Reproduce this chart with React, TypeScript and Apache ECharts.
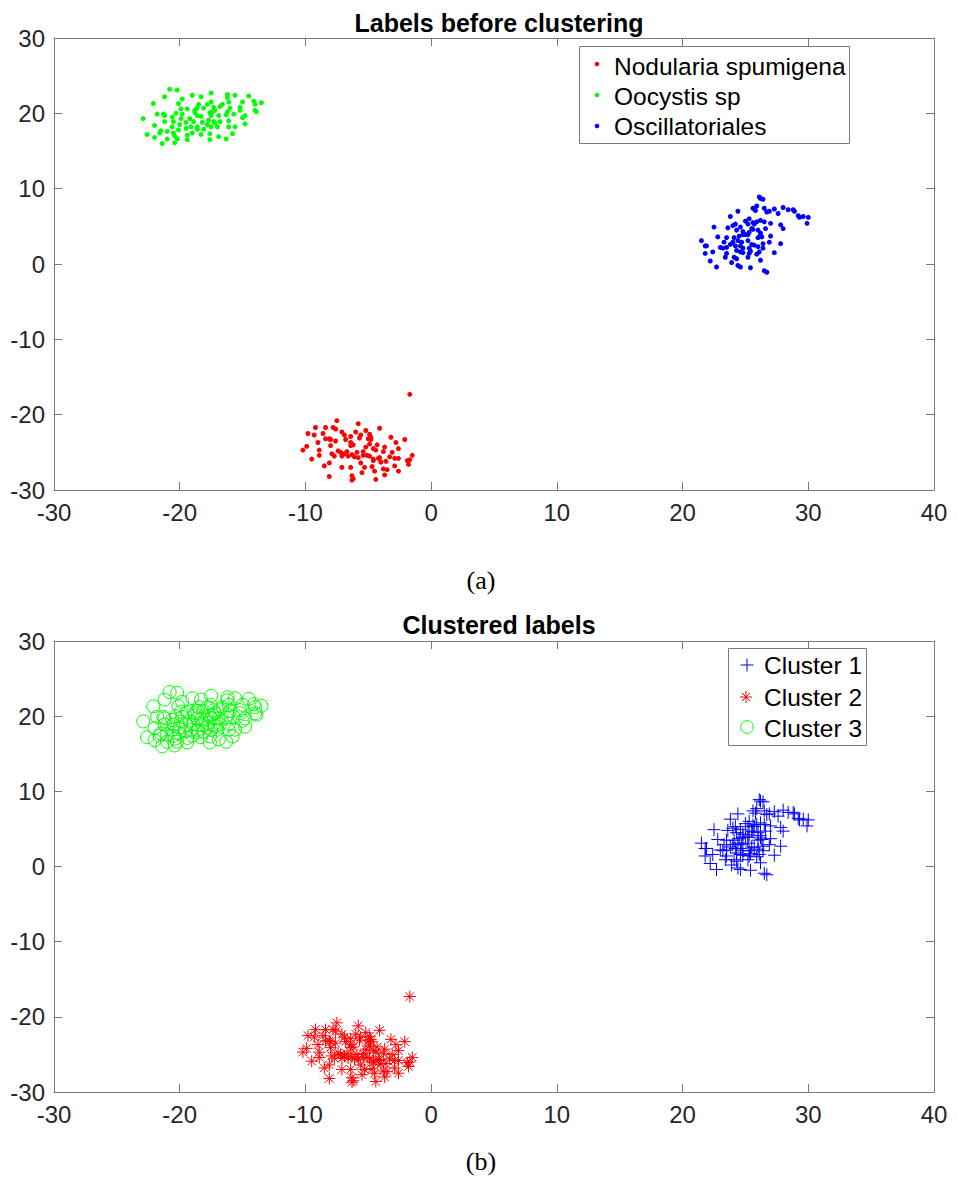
import React, { useEffect, useRef } from "react";
import * as echarts from "echarts";

// ---- data (t-SNE like 2-D embedding) ----
const nodulariaPoints: [number, number][] = [
  [-1.7, -17.3], [-7.5, -20.8], [-5.8, -21.2], [-9.2, -21.7], [-8.4, -21.7], [-7.8, -21.7], [-7.6, -21.9], [-4.1, -21.8],
  [-9.8, -22.5], [-7.1, -22.3], [-6.9, -22.7], [-6.4, -22.9], [-6.0, -22.3], [-5.6, -22.7], [-5.2, -22.1], [-4.9, -22.6],
  [-4.8, -23.0], [-9.3, -22.7], [-8.6, -22.5], [-3.2, -23.0], [-2.1, -23.3], [-8.4, -23.2], [-8.1, -23.2], [-7.6, -23.5],
  [-8.0, -23.3], [-6.8, -23.3], [-6.4, -23.7], [-5.7, -23.1], [-5.0, -23.2], [-4.8, -23.3], [-9.0, -23.7], [-6.4, -24.1],
  [-6.2, -24.0], [-5.2, -24.3], [-4.9, -23.9], [-4.3, -24.0], [-3.7, -24.3], [-2.8, -23.7], [-8.0, -24.1], [-9.9, -24.2],
  [-10.2, -24.7], [-8.9, -24.7], [-7.4, -24.8], [-7.2, -25.0], [-6.9, -25.2], [-6.7, -24.9], [-6.3, -25.3], [-5.9, -25.0],
  [-5.4, -24.9], [-4.6, -24.5], [-4.4, -24.7], [-3.8, -24.9], [-3.1, -25.0], [-2.6, -24.5], [-7.9, -25.2], [-7.7, -25.5],
  [-8.9, -25.4], [-7.1, -25.5], [-6.6, -25.5], [-6.1, -25.6], [-5.8, -25.7], [-5.4, -25.4], [-5.1, -25.4], [-4.9, -25.5],
  [-4.6, -25.9], [-4.2, -25.8], [-4.1, -25.7], [-3.3, -25.6], [-2.9, -25.8], [-2.6, -25.8], [-1.7, -26.0], [-1.5, -25.4],
  [-9.5, -25.9], [-5.6, -26.4], [-4.6, -26.1], [-4.0, -26.3], [-3.6, -26.2], [-1.8, -26.6], [-1.9, -26.1], [-8.1, -26.4],
  [-8.5, -26.8], [-7.1, -27.0], [-6.4, -27.0], [-5.3, -27.0], [-4.7, -26.9], [-2.9, -26.8], [-3.8, -27.2], [-3.5, -27.3],
  [-5.5, -27.7], [-4.5, -27.5], [-2.6, -27.5], [-8.1, -28.2], [-6.3, -28.1], [-6.2, -28.5], [-6.3, -28.7], [-4.4, -28.6],
  [-3.7, -28.0],
];

const oocystisPoints: [number, number][] = [
  [-20.8, 23.2], [-20.2, 23.1], [-21.2, 22.2], [-19.8, 21.9], [-19.0, 22.4], [-18.3, 22.2], [-17.5, 22.7], [-16.2, 22.5],
  [-15.6, 22.4], [-16.2, 22.1], [-14.5, 22.3], [-22.1, 21.3], [-20.1, 21.3], [-18.5, 21.2], [-17.8, 21.2], [-17.5, 21.5],
  [-16.6, 21.2], [-16.8, 20.9], [-16.1, 21.5], [-15.0, 21.5], [-14.1, 21.6], [-14.0, 21.2], [-13.5, 21.4], [-19.9, 20.6],
  [-19.4, 20.6], [-18.8, 20.4], [-18.6, 20.7], [-18.1, 20.7], [-17.3, 20.8], [-17.2, 20.4], [-16.0, 20.7], [-15.2, 20.8],
  [-15.2, 20.4], [-14.0, 20.4], [-13.9, 20.2], [-21.8, 19.9], [-21.3, 19.9], [-21.2, 19.7], [-20.3, 20.0], [-19.8, 19.9],
  [-18.8, 20.1], [-18.6, 19.7], [-17.6, 20.1], [-17.4, 20.2], [-16.2, 20.2], [-15.7, 19.9], [-22.9, 19.3], [-20.6, 19.5],
  [-19.9, 19.3], [-19.2, 19.3], [-18.3, 19.6], [-17.5, 19.7], [-16.9, 19.7], [-16.3, 19.8], [-15.0, 19.4], [-14.8, 19.7],
  [-21.2, 18.9], [-20.5, 18.9], [-19.5, 18.8], [-18.9, 18.9], [-18.2, 18.8], [-17.7, 19.1], [-17.3, 18.9], [-16.8, 18.9],
  [-16.1, 19.0], [-22.0, 18.4], [-20.6, 18.2], [-20.0, 18.5], [-19.1, 18.2], [-18.6, 18.2], [-17.8, 18.5], [-17.2, 18.7],
  [-14.8, 18.6], [-21.5, 17.7], [-21.0, 17.6], [-20.1, 17.8], [-19.5, 18.0], [-18.6, 17.9], [-18.1, 17.9], [-17.5, 18.2],
  [-17.0, 18.2], [-16.1, 18.2], [-15.6, 18.2], [-21.6, 17.4], [-20.5, 17.4], [-19.4, 17.1], [-19.0, 17.4], [-18.3, 17.2],
  [-17.6, 17.3], [-15.8, 17.3], [-22.6, 17.2], [-22.0, 16.8], [-21.0, 16.6], [-20.4, 17.0], [-20.2, 16.6], [-19.4, 16.5],
  [-17.6, 16.5], [-16.9, 16.9], [-16.3, 16.6], [-21.4, 16.0], [-20.4, 16.1],
];

const oscillatorialesPoints: [number, number][] = [
  [26.1, 8.9], [26.2, 8.7], [26.4, 8.6], [25.6, 7.4], [25.8, 7.1], [25.9, 7.7], [26.5, 7.4], [26.9, 7.0],
  [26.7, 6.9], [27.3, 7.3], [27.6, 6.7], [28.0, 7.5], [28.4, 7.2], [28.8, 7.2], [28.9, 7.0], [29.2, 6.4],
  [29.3, 6.2], [29.6, 6.3], [30.0, 6.2], [29.9, 5.4], [24.4, 7.0], [23.8, 6.3], [22.5, 4.9], [23.6, 4.8],
  [24.0, 5.1], [24.2, 5.3], [24.6, 4.9], [25.0, 5.7], [25.3, 6.0], [25.6, 5.5], [25.2, 5.3], [25.7, 5.3],
  [25.9, 5.6], [26.2, 5.8], [26.5, 5.6], [27.0, 5.4], [26.6, 4.7], [27.8, 5.2], [28.0, 4.7], [24.3, 4.5],
  [24.8, 4.3], [25.0, 3.9], [25.3, 4.2], [25.5, 4.7], [25.6, 4.6], [26.0, 4.5], [26.2, 4.1], [22.8, 3.6],
  [23.5, 3.5], [24.1, 3.5], [24.5, 3.7], [24.8, 3.9], [25.2, 3.9], [26.0, 3.5], [26.2, 3.8], [26.3, 3.6],
  [27.0, 3.7], [21.5, 3.1], [23.3, 2.9], [24.0, 2.9], [24.4, 3.1], [24.7, 2.9], [25.2, 3.1], [25.5, 2.6],
  [25.7, 2.5], [26.4, 2.7], [26.9, 2.9], [27.8, 2.7], [21.8, 2.4], [21.9, 2.4], [23.0, 2.2], [23.2, 2.1],
  [23.5, 2.2], [23.8, 2.6], [24.2, 2.4], [24.6, 2.4], [24.8, 2.1], [25.3, 2.1], [25.4, 1.7], [26.0, 2.3],
  [26.4, 2.1], [26.1, 1.6], [21.8, 1.4], [22.4, 1.6], [23.5, 1.4], [24.3, 1.8], [24.6, 1.6], [24.8, 1.5],
  [25.3, 1.4], [25.9, 1.3], [27.3, 1.5], [23.4, 0.9], [24.1, 0.9], [24.3, 0.7], [25.2, 0.9], [26.2, 0.5],
  [22.2, 0.4], [23.9, 0.2], [24.4, -0.2], [24.6, -0.4], [25.4, -0.5], [22.7, -0.4], [26.5, -0.9], [26.7, -1.1],
];

// clustering result: each cluster corresponds to one label group
const cluster1Points = oscillatorialesPoints;
const cluster2Points = nodulariaPoints;
const cluster3Points = oocystisPoints;

const labelNames = ["Nodularia spumigena", "Oocystis sp", "Oscillatoriales"];
const clusterNames = ["Cluster 1", "Cluster 2", "Cluster 3"];
const xTicks = { min: -30, max: 40, interval: 10 };
const yTicks = { min: -30, max: 30, interval: 10 };

const RED = "#ff0000";
const GREEN = "#00ff00";
const BLUE = "#0000ff";
const AXIS = "#7a7a7a";
const TEXT = "#262626";
const FONT = "'Liberation Sans', Arial, Helvetica, sans-serif";
const SERIF = "'Liberation Serif', 'Times New Roman', serif";

const PLUS = "path://M0,5L10,5M5,0L5,10";
const STAR = "path://M0,5L10,5M5,0L5,10M1.46,1.46L8.54,8.54M1.46,8.54L8.54,1.46";

function makeAxes(gridIndex: number) {
  const common = {
    gridIndex,
    type: "value" as const,
    axisLine: { show: true, onZero: false, lineStyle: { color: AXIS, width: 1 } },
    axisTick: { show: true, inside: true, length: 8, lineStyle: { color: AXIS, width: 1 } },
    splitLine: { show: false },
  };
  const x = [
    {
      ...common, position: "bottom", ...xTicks,
      axisLabel: { color: TEXT, fontSize: 24, fontFamily: FONT, margin: 10 },
    },
    { ...common, position: "top", ...xTicks, axisLabel: { show: false } },
  ];
  const y = [
    {
      ...common, position: "left", ...yTicks,
      axisLabel: { color: TEXT, fontSize: 24, fontFamily: FONT, margin: 9 },
    },
    { ...common, position: "right", ...yTicks, axisLabel: { show: false } },
  ];
  return { x, y };
}

function legendBox(
  left: number, top: number, width: number, height: number,
  rows: { name: string; y: number; marker: any }[], textX: number
) {
  const children: any[] = [
    {
      type: "rect",
      shape: { x: left + 0.5, y: top + 0.5, width, height },
      style: { fill: "#ffffff", stroke: AXIS, lineWidth: 1 },
    },
  ];
  rows.forEach((r) => {
    children.push(r.marker);
    children.push({
      type: "text",
      x: textX,
      y: r.y,
      style: {
        text: r.name, fill: "#000000", fontSize: 24.5, fontFamily: FONT,
        verticalAlign: "middle", align: "left",
      },
    });
  });
  return { type: "group", children };
}

function plusMarker(cx: number, cy: number, s: number, color: string) {
  const h = s / 2;
  return {
    type: "group",
    children: [
      { type: "line", shape: { x1: cx - h, y1: cy, x2: cx + h, y2: cy }, style: { stroke: color, lineWidth: 1 } },
      { type: "line", shape: { x1: cx, y1: cy - h, x2: cx, y2: cy + h }, style: { stroke: color, lineWidth: 1 } },
    ],
  };
}
function starMarker(cx: number, cy: number, s: number, color: string) {
  const h = s / 2;
  const d = h * 0.707;
  const st = { stroke: color, lineWidth: 1 };
  return {
    type: "group",
    children: [
      { type: "line", shape: { x1: cx - h, y1: cy, x2: cx + h, y2: cy }, style: st },
      { type: "line", shape: { x1: cx, y1: cy - h, x2: cx, y2: cy + h }, style: st },
      { type: "line", shape: { x1: cx - d, y1: cy - d, x2: cx + d, y2: cy + d }, style: st },
      { type: "line", shape: { x1: cx - d, y1: cy + d, x2: cx + d, y2: cy - d }, style: st },
    ],
  };
}

export default function App() {
  const ref = useRef<HTMLDivElement>(null);

  useEffect(() => {
    if (!ref.current) return;
    document.body.style.margin = "0";
    const chart = echarts.init(ref.current, undefined, { renderer: "svg" });
    const a0 = makeAxes(0);
    const a1 = makeAxes(1);

    const option: any = {
      animation: false,
      backgroundColor: "#ffffff",
      title: [
        {
          text: "Labels before clustering", left: 494, top: 5, textAlign: "center",
          textStyle: { fontSize: 25, fontWeight: "bold", fontFamily: FONT, color: "#000000" },
        },
        {
          text: "Clustered labels", left: 494, top: 607, textAlign: "center",
          textStyle: { fontSize: 25, fontWeight: "bold", fontFamily: FONT, color: "#000000" },
        },
      ],
      grid: [
        { left: 54, top: 38, width: 880, height: 452, containLabel: false },
        { left: 54, top: 641, width: 880, height: 451, containLabel: false },
      ],
      xAxis: [...a0.x, ...a1.x],
      yAxis: [...a0.y, ...a1.y],
      series: [
        {
          name: labelNames[0], type: "scatter", xAxisIndex: 0, yAxisIndex: 0,
          data: nodulariaPoints, symbol: "circle", symbolSize: 5, itemStyle: { color: RED, opacity: 1 },
        },
        {
          name: labelNames[1], type: "scatter", xAxisIndex: 0, yAxisIndex: 0,
          data: oocystisPoints, symbol: "circle", symbolSize: 5, itemStyle: { color: GREEN, opacity: 1 },
        },
        {
          name: labelNames[2], type: "scatter", xAxisIndex: 0, yAxisIndex: 0,
          data: oscillatorialesPoints, symbol: "circle", symbolSize: 5, itemStyle: { color: BLUE, opacity: 1 },
        },
        {
          name: clusterNames[0], type: "scatter", xAxisIndex: 2, yAxisIndex: 2,
          data: cluster1Points, symbol: PLUS, symbolSize: 13,
          itemStyle: { color: "none", borderColor: BLUE, borderWidth: 1, opacity: 1 },
        },
        {
          name: clusterNames[1], type: "scatter", xAxisIndex: 2, yAxisIndex: 2,
          data: cluster2Points, symbol: STAR, symbolSize: 12,
          itemStyle: { color: "none", borderColor: RED, borderWidth: 1, opacity: 1 },
        },
        {
          name: clusterNames[2], type: "scatter", xAxisIndex: 2, yAxisIndex: 2,
          data: cluster3Points, symbol: "circle", symbolSize: 13,
          itemStyle: { color: "none", borderColor: GREEN, borderWidth: 1, opacity: 1 },
        },
      ],
      graphic: [
        legendBox(579, 46, 270, 97, [
          { name: labelNames[0], y: 66, marker: { type: "circle", shape: { cx: 597, cy: 64, r: 2.3 }, style: { fill: RED } } },
          { name: labelNames[1], y: 96, marker: { type: "circle", shape: { cx: 597, cy: 95, r: 2.3 }, style: { fill: GREEN } } },
          { name: labelNames[2], y: 126, marker: { type: "circle", shape: { cx: 597, cy: 126, r: 2.3 }, style: { fill: BLUE } } },
        ], 614),
        legendBox(728, 648, 138, 97, [
          { name: clusterNames[0], y: 665, marker: plusMarker(747, 665, 13, BLUE) },
          { name: clusterNames[1], y: 697, marker: starMarker(746, 697, 12, RED) },
          { name: clusterNames[2], y: 728, marker: { type: "circle", shape: { cx: 747, cy: 727, r: 6.3 }, style: { fill: "none", stroke: GREEN, lineWidth: 1 } } },
        ], 764),
        {
          type: "text", x: 481, y: 580,
          style: { text: "(a)", fontSize: 26, fontFamily: SERIF, fill: "#000000", align: "center", verticalAlign: "middle" },
        },
        {
          type: "text", x: 481, y: 1161,
          style: { text: "(b)", fontSize: 26, fontFamily: SERIF, fill: "#000000", align: "center", verticalAlign: "middle" },
        },
      ],
    };
    chart.setOption(option);
    return () => chart.dispose();
  }, []);

  return (
    <div
      ref={ref}
      style={{ position: "absolute", left: 0, top: 0, width: 957, height: 1201, background: "#fff" }}
    />
  );
}
